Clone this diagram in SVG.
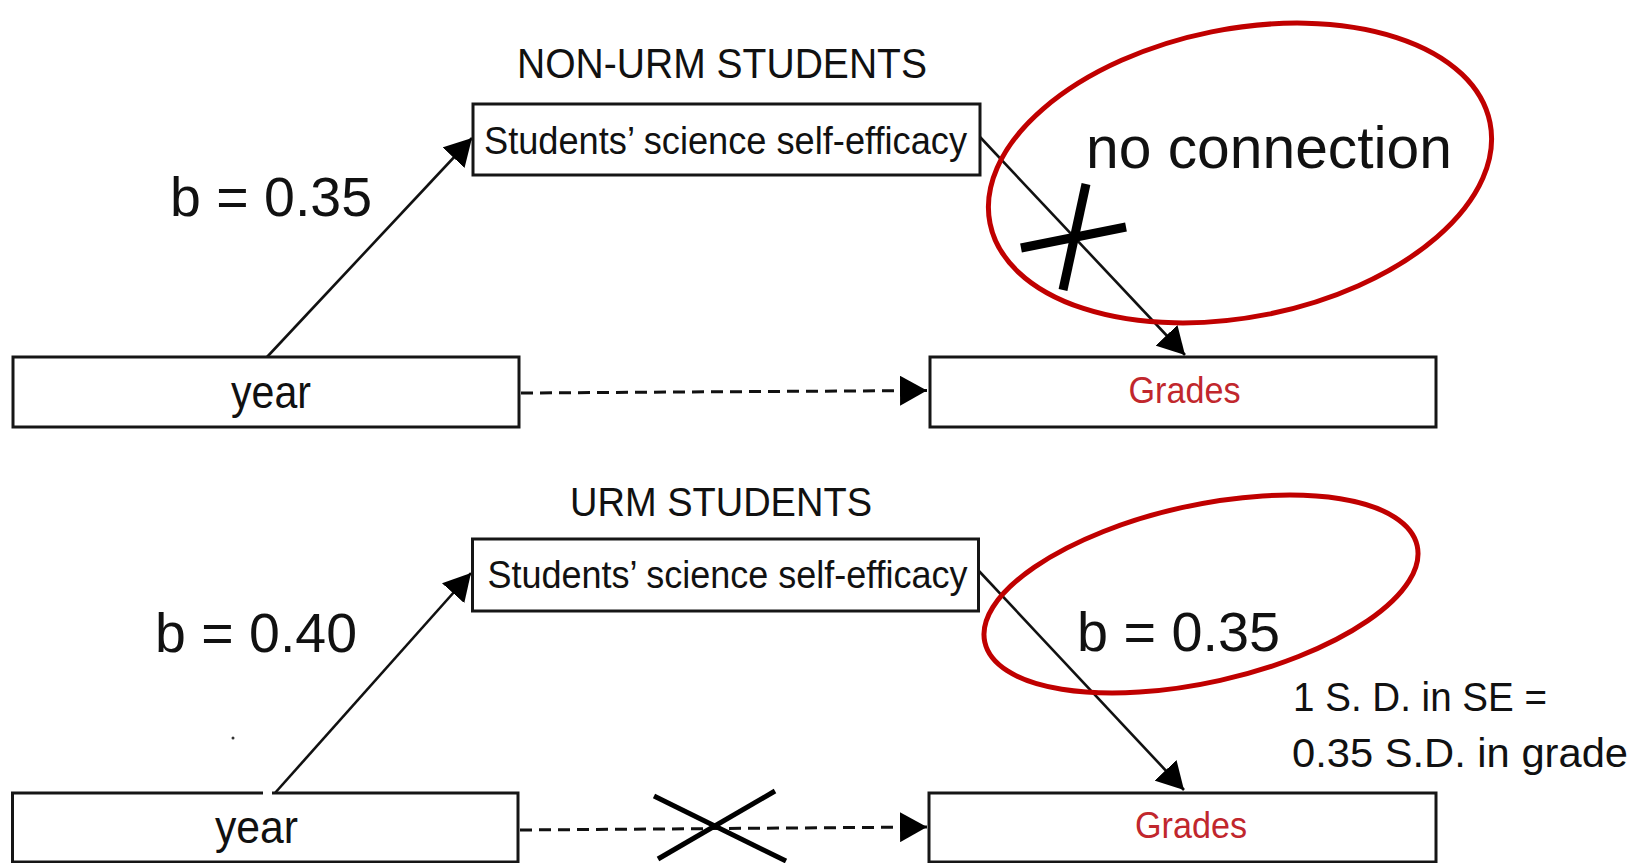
<svg xmlns="http://www.w3.org/2000/svg" width="1647" height="863" viewBox="0 0 1647 863">
<style>
.box{fill:#fff;stroke:#161616;stroke-width:3}
.t{font-family:"Liberation Sans",Arial,sans-serif;fill:#111}
.red{fill:#c1272d}
.ln{stroke:#111;stroke-width:2.6;fill:none}
.dash{stroke:#111;stroke-width:3;fill:none;stroke-dasharray:12 7}
.ring{fill:none;stroke:#c00000;stroke-width:5}
.cross{stroke:#000;fill:none}
</style>
<defs>
<marker id="ah" markerUnits="userSpaceOnUse" markerWidth="28" markerHeight="30" refX="27" refY="15" orient="auto">
<path d="M0,0 L27,15 L0,30 z" fill="#000"/>
</marker>
</defs>
<rect width="1647" height="863" fill="#fff"/>

<g id="titles">
<text class="t" x="517" y="78" font-size="42" textLength="410" lengthAdjust="spacingAndGlyphs">NON-URM STUDENTS</text>
<text class="t" x="570" y="516" font-size="40" textLength="302" lengthAdjust="spacingAndGlyphs">URM STUDENTS</text>
</g>

<g id="connectors">
<line class="ln" x1="267" y1="357" x2="472" y2="138" marker-end="url(#ah)"/>
<line class="ln" x1="980" y1="137" x2="1185" y2="355" marker-end="url(#ah)"/>
<line class="dash" x1="521" y1="393" x2="927" y2="390.5" marker-end="url(#ah)"/>
<line class="ln" x1="275" y1="793" x2="471" y2="573" marker-end="url(#ah)"/>
<line class="ln" x1="978" y1="570" x2="1184" y2="790" marker-end="url(#ah)"/>
<line class="dash" x1="520" y1="830" x2="927" y2="827" marker-end="url(#ah)"/>
</g>

<g id="n-top-self-efficacy">
<rect class="box" x="473" y="104" width="507" height="71"/>
<text class="t" x="484" y="154" font-size="38" textLength="483" lengthAdjust="spacingAndGlyphs">Students’ science self-efficacy</text>
</g>
<g id="n-top-year">
<rect class="box" x="13" y="357" width="506" height="70"/>
<text class="t" x="231" y="408" font-size="46" textLength="80" lengthAdjust="spacingAndGlyphs">year</text>
</g>
<g id="n-top-grades">
<rect class="box" x="930" y="357" width="506" height="70"/>
<text class="t red" x="1128.5" y="403" font-size="36" textLength="112" lengthAdjust="spacingAndGlyphs">Grades</text>
</g>

<g id="n-bot-self-efficacy">
<rect class="box" x="472.5" y="539" width="506" height="72"/>
<text class="t" x="487.5" y="588" font-size="38" textLength="480" lengthAdjust="spacingAndGlyphs">Students’ science self-efficacy</text>
</g>
<g id="n-bot-year">
<rect class="box" x="12.5" y="793" width="505.5" height="69"/>
<line x1="263" y1="793" x2="272" y2="793" stroke="#fff" stroke-width="4"/>
<text class="t" x="215" y="843" font-size="46" textLength="83" lengthAdjust="spacingAndGlyphs">year</text>
</g>
<g id="n-bot-grades">
<rect class="box" x="929" y="793" width="507" height="69"/>
<text class="t red" x="1135" y="837.5" font-size="36" textLength="112" lengthAdjust="spacingAndGlyphs">Grades</text>
</g>

<g id="labels">
<text class="t" x="170" y="216" font-size="56" textLength="202" lengthAdjust="spacingAndGlyphs">b = 0.35</text>
<text class="t" x="155" y="652" font-size="56" textLength="202" lengthAdjust="spacingAndGlyphs">b = 0.40</text>
<text class="t" x="1077" y="651" font-size="56" textLength="203" lengthAdjust="spacingAndGlyphs">b = 0.35</text>
<text class="t" x="1086" y="168" font-size="59" textLength="366" lengthAdjust="spacingAndGlyphs">no connection</text>
<text class="t" x="1293" y="711" font-size="40" textLength="254" lengthAdjust="spacingAndGlyphs">1 S. D. in SE =</text>
<text class="t" x="1292" y="767" font-size="40" textLength="336" lengthAdjust="spacingAndGlyphs">0.35 S.D. in grade</text>
<circle cx="233" cy="738" r="1.5" fill="#333"/>
</g>

<g id="annotations">
<ellipse class="ring" cx="1240" cy="173" rx="255" ry="144" transform="rotate(-11.4 1240 173)"/>
<ellipse class="ring" cx="1201" cy="594" rx="221.5" ry="88.5" transform="rotate(-12.6 1201 594)"/>
<line class="cross" stroke-width="9" x1="1063" y1="290" x2="1086" y2="184"/>
<line class="cross" stroke-width="9" x1="1021" y1="248" x2="1126" y2="227"/>
<line class="cross" stroke-width="5" x1="654" y1="796" x2="786" y2="861"/>
<line class="cross" stroke-width="5" x1="658" y1="859" x2="775" y2="791"/>
</g>
</svg>
